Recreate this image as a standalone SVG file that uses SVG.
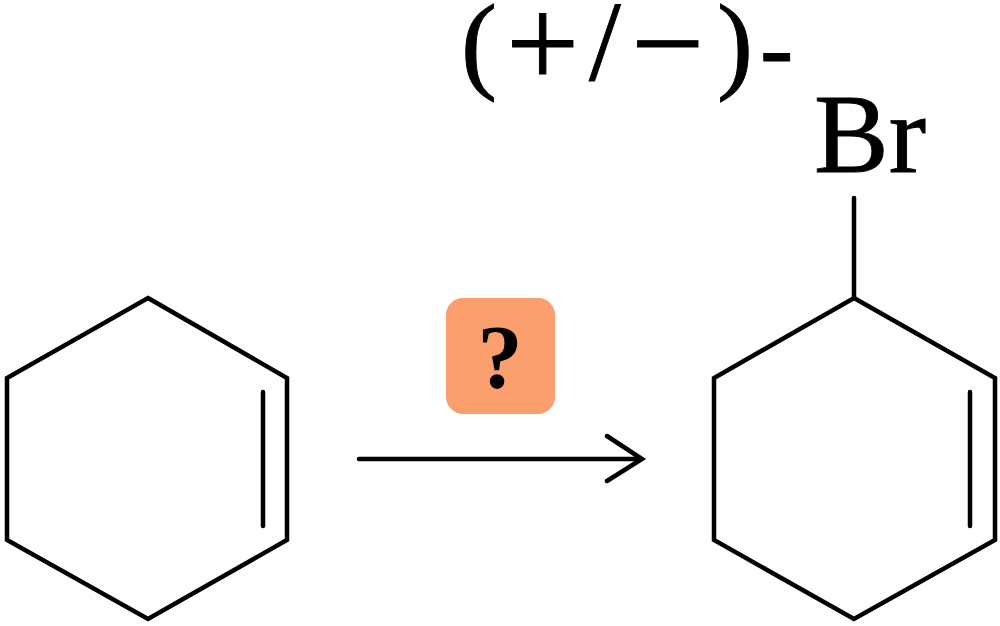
<svg xmlns="http://www.w3.org/2000/svg" width="1000" height="626" viewBox="0 0 1000 626">
<style>
.bond{fill:none;stroke:#000;stroke-width:4.5;stroke-linejoin:miter;stroke-linecap:round}
.t{font-family:"Liberation Serif","Times New Roman",serif;fill:#000;stroke:#000;stroke-width:.9}
</style>
<rect width="1000" height="626" fill="#fff"/>
<g id="reactant">
<path class="bond" d="M148 298L287 378V540L148 619L7 540V378Z"/>
<path class="bond" d="M263 392V526"/>
</g>
<g id="product">
<path class="bond" d="M854 298L995 378V540L854 619L714 540V378Z"/>
<path class="bond" d="M970 392V526"/>
<path class="bond" d="M854 298V198"/>
<text class="t" x="814" y="172" font-size="112">Br</text>
</g>
<g id="stereo-label">
<text class="t" font-size="108" y="79" x="461">(</text>
<text class="t" font-size="130" y="87" x="506">+</text>
<text class="t" font-size="114" y="80" x="589">/</text>
<text class="t" font-size="130" y="87" x="631">−</text>
<text class="t" font-size="108" y="79" x="717">)</text>
<text class="t" font-size="100" y="81" x="760">-</text>
</g>
<g id="reagent">
<rect x="446" y="298" width="109" height="116" rx="17" fill="#fb9f6f"/>
<text x="500" y="388" font-size="90" font-weight="bold" text-anchor="middle" font-family="'Liberation Serif',serif" fill="#000">?</text>
</g>
<g id="connectors">
<path class="bond" d="M359 459H640M607 436L642 459L607 481"/>
</g>
</svg>
